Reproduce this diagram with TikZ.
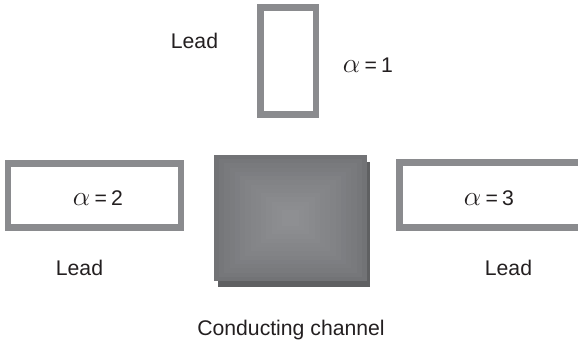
\documentclass[tikz,border=0pt]{standalone}
\usepackage{fontspec}
\setmainfont{Liberation Sans}
\definecolor{leadgray}{HTML}{8A8B8E}
\definecolor{shadowgray}{HTML}{5F6062}
\definecolor{textgray}{HTML}{231F20}
\definecolor{chanedge}{HTML}{727376}
\definecolor{chancentre}{HTML}{8E8F92}
\newcommand{\alphaeq}[1]{{\fontsize{19.5}{20}\selectfont$\alpha$}\hspace{0.2em}=\hspace{0.2em}#1}
\tikzset{
  leadbox/.style={draw=leadgray,line width=4.9pt,fill=white,inner sep=0pt,anchor=north west},
  lbl/.style={text=textgray,font=\fontsize{15.9}{18}\selectfont,inner sep=0pt,anchor=base},
}
\begin{document}
\begin{tikzpicture}[x=0.75pt,y=-0.75pt]
\useasboundingbox (0,0) rectangle (578,345);
\clip (0,0) rectangle (578,345);
% leads: anchored at the outer corner of the stroke
\node[leadbox,minimum width=41.6pt,minimum height=80.6pt] (lead1) at (257.3,4) {};
\node[leadbox,minimum width=129.6pt,minimum height=48.35pt] (lead2) at (4.7,160) {};
\node[leadbox,minimum width=150pt,minimum height=48.7pt] (lead3) at (396,159.5) {};
% channel
\fill[shadowgray] (218,162) rectangle (370,287);
\foreach \i in {0,...,13}{
  \pgfmathsetmacro{\t}{\i/13}
  \pgfmathsetmacro{\p}{100*\t^0.75}
  \colorlet{stepcol}{chancentre!\p!chanedge}
  \fill[stepcol] ({214+\t*68},{155+\t*55}) rectangle ({367-\t*68},{281-\t*55});
}
\node[minimum width=115pt,minimum height=94.5pt,inner sep=0pt] (channel) at (290.5,218) {};
% labels
\node[lbl] (t1) at (194.5,48.5) {Lead};
\node[lbl] (t2) at (368,73) {\alphaeq{1}};
\node[lbl] (t3) at (98,206) {\alphaeq{2}};
\node[lbl] (t4) at (489,206) {\alphaeq{3}};
\node[lbl] (t5) at (79.5,276) {Lead};
\node[lbl] (t6) at (508.5,276) {Lead};
\node[lbl] (t7) at (291,335) {Conducting channel};
\end{tikzpicture}
\end{document}
